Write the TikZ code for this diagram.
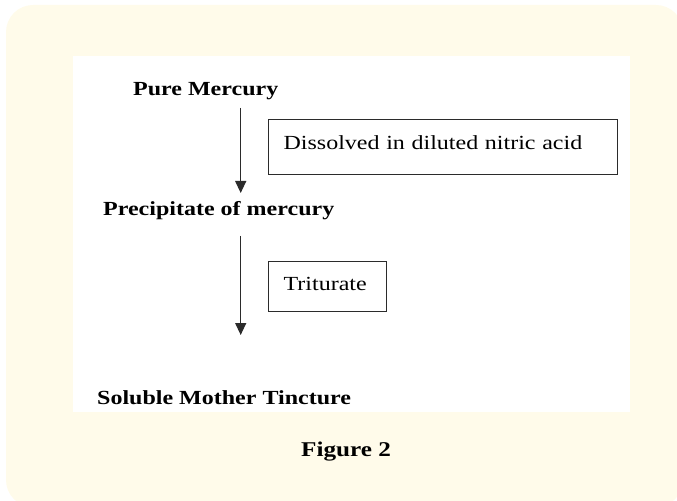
\documentclass[tikz,border=0pt]{standalone}
\usepackage{fontspec}
\setmainfont[FakeStretch=1.2]{Liberation Serif}
\usetikzlibrary{arrows.meta}
\definecolor{creambg}{HTML}{FFFBEA}
\definecolor{inkgray}{HTML}{2B2B2B}
\tikzset{
  stage/.style={anchor=base west, inner sep=0pt, font=\fontsize{20bp}{22bp}\selectfont\bfseries},
  stepbox/.style={draw=inkgray, line width=1.2bp, anchor=north west, inner xsep=15bp, inner ysep=0pt,
    align=left, font=\fontsize{20bp}{22bp}\selectfont},
  flow/.style={draw=inkgray, line width=1.3bp, -{Triangle[width=11bp,length=12bp]}}
}
\begin{document}
\begin{tikzpicture}[x=1bp, y=-1bp]
    \useasboundingbox (0,0) rectangle (677,501);

    % Cream panel and white figure area
    \fill[creambg, rounded corners=27bp] (6,5) rectangle (683,507);
    \fill[white] (73,56) rectangle (630,412);

    % Stages
    \node[stage] (pure) at (133,96) {Pure Mercury};
    \node[stage] (precip) at (103,216) {Precipitate of mercury};
    \node[stage] (soluble) at (97,404) {Soluble Mother Tincture};

    % Process steps
    \node[stepbox, text width=319bp, text height=30bp, text depth=25bp] (dissolve) at (268,119) {Dissolved in diluted nitric acid};
    \node[stepbox, text width=88bp, text height=29bp, text depth=21bp] (triturate) at (268,261) {Triturate};

    % Arrows
    \coordinate (a1top) at (240.7,108);
    \coordinate (a1tip) at (240.7,193);
    \coordinate (a2top) at (240.7,236);
    \coordinate (a2tip) at (240.7,335);
    \draw[flow] (a1top) -- (a1tip);
    \draw[flow] (a2top) -- (a2tip);

    \node[anchor=base west, inner sep=0pt, font=\fontsize{21bp}{23bp}\selectfont\bfseries] (caption) at (301,456) {Figure 2};
  \end{tikzpicture}
\end{document}
